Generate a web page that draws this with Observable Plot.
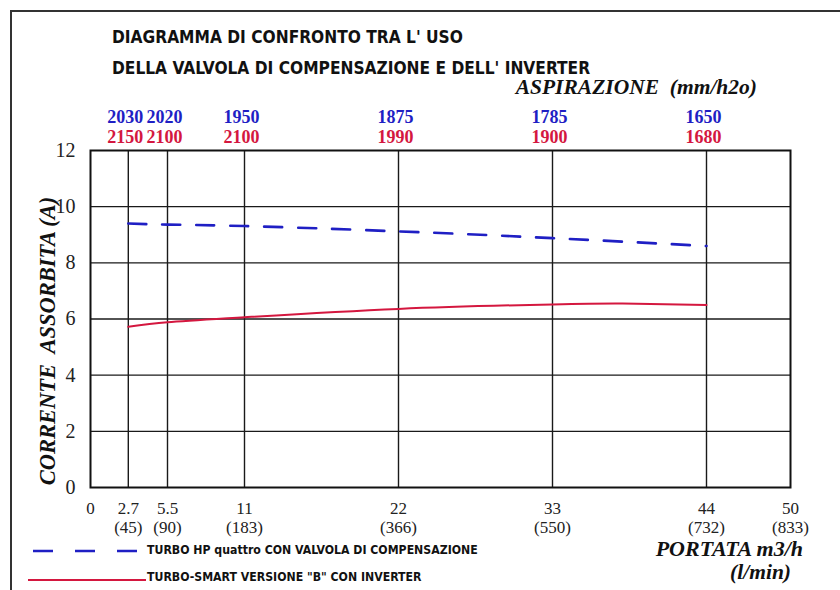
<!DOCTYPE html>
<html>
<head>
<meta charset="utf-8">
<script src="https://cdn.jsdelivr.net/npm/d3@7"></script>
<script src="https://cdn.jsdelivr.net/npm/@observablehq/plot@0.6"></script>
<style>
  body { margin: 0; background: #fff; }
  #wrap { position: relative; width: 840px; height: 590px; overflow: hidden; background: #fff; }
  #border { position: absolute; left: 10px; top: 10px; width: 900px; height: 700px; border-left: 2px solid #333; border-top: 2px solid #333; }
  .abs { position: absolute; white-space: nowrap; line-height: 1; }
  .sans { font-family: "Liberation Sans Narrow", "DejaVu Sans Condensed", "Roboto Condensed", sans-serif; font-weight: bold; color: #111; }
  .title { font-size: 17.2px; }
  .leg { font-size: 12.2px; }
  .serifbi { font-family: "Liberation Serif", "Times New Roman", serif; font-weight: bold; font-style: italic; color: #111; }
  #chart svg { position: absolute; left: 0; top: 0; }
</style>
</head>
<body>
<div id="wrap">
  <div id="border"></div>
  <div id="chart"></div>
  <div class="abs sans title" style="left:112px;top:29px">DIAGRAMMA DI CONFRONTO TRA L' USO</div>
  <div class="abs sans title" style="left:112px;top:60px">DELLA VALVOLA DI COMPENSAZIONE E DELL' INVERTER</div>
  <div class="abs serifbi" style="right:83px;top:77px;font-size:21.5px">ASPIRAZIONE&nbsp; (mm/h2o)</div>
  <div class="abs serifbi" style="right:37px;top:538px;font-size:22px">PORTATA m3/h</div>
  <div class="abs serifbi" style="right:49px;top:562px;font-size:21.5px">(l/min)</div>
  <svg class="abs" style="left:0;top:0" width="840" height="590" id="legsvg">
    <line x1="33" x2="137" y1="551" y2="551" stroke="#1f1fc4" stroke-width="2.5" stroke-dasharray="20,22"/>
    <line x1="28" x2="146" y1="580" y2="580" stroke="#d4173f" stroke-width="2"/>
  </svg>
  <div class="abs sans leg" style="left:147px;top:544px">TURBO HP quattro CON VALVOLA DI COMPENSAZIONE</div>
  <div class="abs sans leg" style="left:147px;top:571px">TURBO-SMART VERSIONE "B" CON INVERTER</div>
</div>
<script>
// Portata (m3/h) tick values and l/min equivalents
const flowTicks = [0, 2.7, 5.5, 11, 22, 33, 44, 50];
const flowLmin = [null, 45, 90, 183, 366, 550, 732, 833];
const gridFlows = [2.7, 5.5, 11, 22, 33, 44];
const currentTicks = [0, 2, 4, 6, 8, 10, 12];
const currentGrid = [2, 4, 6, 8, 10];

// Aspirazione (mm/h2o) at each flow
const aspFlow = [2.7, 5.5, 11, 22, 33, 44];
const aspValvola = [2030, 2020, 1950, 1875, 1785, 1650];
const aspInverter = [2150, 2100, 2100, 1990, 1900, 1680];

// Corrente assorbita (A)
const valvolaFlow = [2.7, 5.5, 11, 22, 33, 44];
const valvolaCurrent = [9.4, 9.36, 9.31, 9.12, 8.88, 8.6];
const inverterFlow = [2.7, 5.5, 11, 22, 33, 38, 44];
const inverterCurrent = [5.72, 5.88, 6.06, 6.36, 6.52, 6.55, 6.5];

const BLUE = "#1f1fc4";
const RED = "#d4173f";
const SERIF = "Liberation Serif, Times New Roman, serif";

const valvola = valvolaFlow.map((q, i) => ({q, a: valvolaCurrent[i]}));
const inverter = inverterFlow.map((q, i) => ({q, a: inverterCurrent[i]}));
const asp = aspFlow.map((q, i) => ({q, v: String(aspValvola[i]), inv: String(aspInverter[i])}));

const chart = Plot.plot({
  width: 840,
  height: 590,
  marginLeft: 90,
  marginRight: 50,
  marginTop: 150,
  marginBottom: 103,
  style: {background: "transparent", overflow: "visible"},
  x: {domain: [0, 50]},
  y: {domain: [0, 12]},
  marks: [
    Plot.gridX(gridFlows, {stroke: "#1a1a1a", strokeOpacity: 1, strokeWidth: 1.4}),
    Plot.gridY(currentGrid, {stroke: "#1a1a1a", strokeOpacity: 1, strokeWidth: 1.4}),
    Plot.frame({stroke: "#111", strokeWidth: 2}),
    Plot.axisY(currentTicks, {tickSize: 0, tickPadding: 15, fontSize: 20, fontFamily: SERIF, fill: "#222", label: null}),
    Plot.axisX(flowTicks, {
      tickSize: 0, tickPadding: 13, fontSize: 17, fontFamily: SERIF, fill: "#222", label: null, lineHeight: 1.12,
      tickFormat: (d) => {
        const i = flowTicks.indexOf(d);
        return flowLmin[i] == null ? String(d) : `${d}\n(${flowLmin[i]})`;
      }
    }),
    Plot.line(valvola, {x: "q", y: "a", curve: "natural", stroke: BLUE, strokeWidth: 2.6, strokeDasharray: "18,16"}),
    Plot.line(inverter, {x: "q", y: "a", curve: "natural", stroke: RED, strokeWidth: 2}),
    Plot.text(asp, {x: "q", text: "v", frameAnchor: "top", dy: -40, dx: -3, fill: BLUE, fontSize: 18, fontWeight: "bold", fontFamily: SERIF}),
    Plot.text(asp, {x: "q", text: "inv", frameAnchor: "top", dy: -20, dx: -3, fill: RED, fontSize: 18, fontWeight: "bold", fontFamily: SERIF}),
    Plot.text(["CORRENTE  ASSORBITA (A)"], {frameAnchor: "left", textAnchor: "middle", rotate: -90, dx: -43, dy: 22, fontSize: 22.5, fontWeight: "bold", fontStyle: "italic", fontFamily: SERIF, fill: "#111"})
  ]
});
document.getElementById("chart").appendChild(chart);
</script>
</body>
</html>
